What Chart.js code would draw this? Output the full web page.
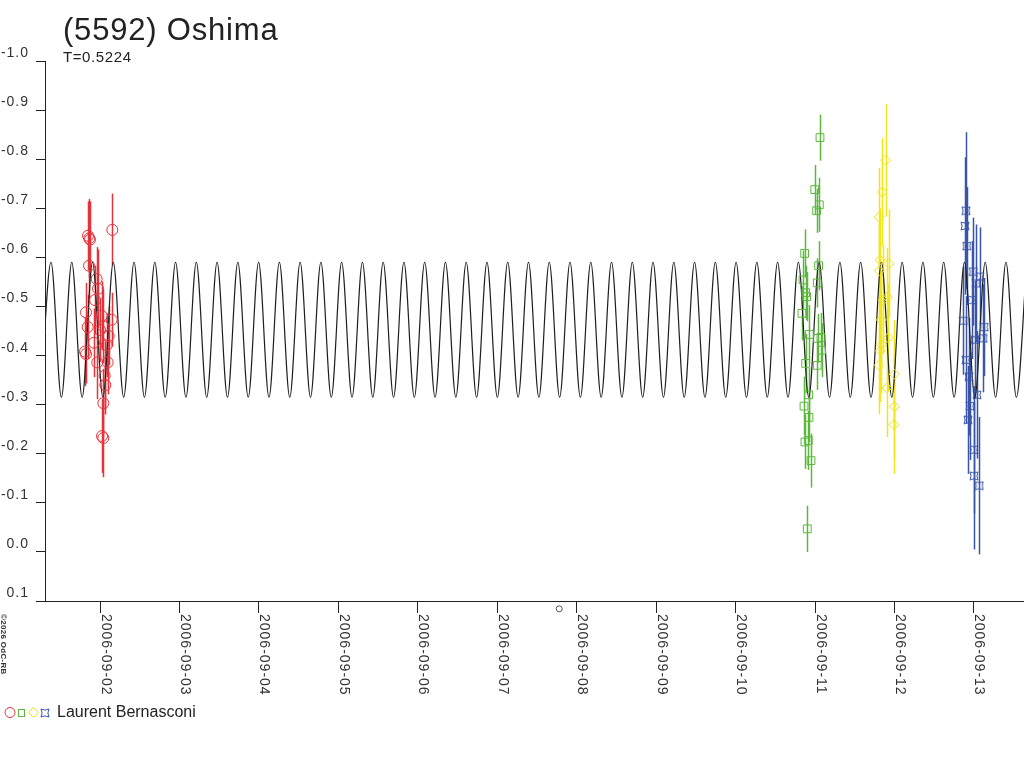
<!DOCTYPE html>
<html>
<head>
<meta charset="utf-8">
<style>
html,body{margin:0;padding:0;background:#fff;}
canvas{display:block;}
</style>
<script src="https://cdn.jsdelivr.net/npm/chart.js@4.4.1/dist/chart.umd.min.js"></script>
</head>
<body>
<canvas id="c" width="1024" height="768" style="width:1024px;height:768px"></canvas>
<script>
// ---- Axis ticks ----
const xTickDays = [2,3,4,5,6,7,8,9,10,11,12,13];
const xTickLabels = ["2006-09-02","2006-09-03","2006-09-04","2006-09-05","2006-09-06","2006-09-07","2006-09-08","2006-09-09","2006-09-10","2006-09-11","2006-09-12","2006-09-13"];
const yTickValues = [-1.0,-0.9,-0.8,-0.7,-0.6,-0.5,-0.4,-0.3,-0.2,-0.1,0.0,0.1];
const yTickLabels = ["-1.0","-0.9","-0.8","-0.7","-0.6","-0.5","-0.4","-0.3","-0.2","-0.1","0.0","0.1"];

// ---- Model curve: extrema (day of Sept 2006, relative mag) ----
const curveDays = [1.2527,1.3833,1.5140,1.6446,1.7753,1.9059,2.0366,2.1672,2.2979,2.4285,2.5592,2.6898,2.8205,2.9511,3.0818,3.2124,3.3431,3.4737,3.6044,3.7350,3.8657,3.9963,4.1270,4.2576,4.3883,4.5189,4.6496,4.7802,4.9109,5.0415,5.1722,5.3028,5.4335,5.5641,5.6948,5.8254,5.9561,6.0867,6.2174,6.3480,6.4787,6.6093,6.7400,6.8706,7.0013,7.1319,7.2626,7.3932,7.5239,7.6545,7.7852,7.9158,8.0465,8.1771,8.3078,8.4384,8.5691,8.6997,8.8304,8.9610,9.0917,9.2223,9.3530,9.4836,9.6143,9.7449,9.8756,10.0062,10.1369,10.2675,10.3982,10.5288,10.6595,10.7901,10.9208,11.0514,11.1821,11.3127,11.4434,11.5740,11.7047,11.8353,11.9660,12.0966,12.2273,12.3579,12.4886,12.6192,12.7499,12.8805,13.0112,13.1418,13.2725,13.4031,13.5338,13.6644];
const curveMags = [-0.315,-0.590,-0.315,-0.590,-0.315,-0.590,-0.315,-0.590,-0.315,-0.590,-0.315,-0.590,-0.315,-0.590,-0.315,-0.590,-0.315,-0.590,-0.315,-0.590,-0.315,-0.590,-0.315,-0.590,-0.315,-0.590,-0.315,-0.590,-0.315,-0.590,-0.315,-0.590,-0.315,-0.590,-0.315,-0.590,-0.315,-0.590,-0.315,-0.590,-0.315,-0.590,-0.315,-0.590,-0.315,-0.590,-0.315,-0.590,-0.315,-0.590,-0.315,-0.590,-0.315,-0.590,-0.315,-0.590,-0.315,-0.590,-0.315,-0.590,-0.315,-0.590,-0.315,-0.590,-0.315,-0.590,-0.315,-0.590,-0.315,-0.590,-0.315,-0.590,-0.315,-0.590,-0.315,-0.590,-0.315,-0.590,-0.315,-0.590,-0.315,-0.590,-0.315,-0.590,-0.315,-0.590,-0.315,-0.590,-0.315,-0.590,-0.315,-0.590,-0.315,-0.590,-0.315,-0.590];

// ---- Observations: session 1 (red) ----
const redDays = [2.155,1.865,1.874,1.849,1.862,1.958,1.975,1.824,2.021,2.147,1.845,2.042,2.109,1.924,2.084,1.811,1.824,1.966,2.096,2.059,2.067,2.042,2.042,2.025,1.937,2.000];
const redMags = [-0.656,-0.639,-0.636,-0.644,-0.583,-0.556,-0.536,-0.488,-0.481,-0.473,-0.458,-0.459,-0.440,-0.426,-0.421,-0.408,-0.403,-0.386,-0.386,-0.359,-0.340,-0.303,-0.232,-0.236,-0.513,-0.452];
const redErrs = [0.074,0.080,0.078,0.070,0.075,0.065,0.080,0.060,0.070,0.055,0.065,0.075,0.060,0.070,0.065,0.070,0.060,0.075,0.065,0.070,0.060,0.070,0.080,0.075,0.070,0.065];

// ---- session 2 (green) ----
const greenDays = [11.062,10.996,11.054,11.020,10.869,11.045,10.848,11.028,10.882,10.894,10.835,10.928,11.032,11.074,11.083,10.882,11.028,10.920,10.861,10.924,10.873,10.915,10.949,10.902];
const greenMags = [-0.844,-0.738,-0.707,-0.695,-0.608,-0.583,-0.554,-0.548,-0.528,-0.520,-0.486,-0.443,-0.435,-0.437,-0.411,-0.384,-0.380,-0.320,-0.297,-0.274,-0.224,-0.227,-0.186,-0.047];
const greenErrs = [0.047,0.050,0.055,0.045,0.049,0.050,0.060,0.050,0.055,0.050,0.055,0.060,0.050,0.050,0.055,0.060,0.050,0.055,0.060,0.050,0.055,0.060,0.055,0.047];

// ---- session 3 (yellow) ----
const yellowDays = [11.889,11.846,11.805,11.818,11.931,11.809,11.909,11.922,11.834,11.821,11.805,11.998,11.906,11.998,11.994,11.858,11.833];
const yellowMags = [-0.798,-0.733,-0.682,-0.595,-0.587,-0.573,-0.519,-0.436,-0.423,-0.410,-0.380,-0.362,-0.334,-0.296,-0.259,-0.513,-0.473];
const yellowErrs = [0.115,0.110,0.100,0.105,0.110,0.095,0.100,0.110,0.100,0.105,0.100,0.110,0.100,0.105,0.100,0.110,0.100];

// ---- session 4 (blue) ----
const blueDays = [12.900,12.887,12.909,12.992,13.076,13.026,12.866,13.129,13.117,13.013,12.900,12.937,12.950,13.000,13.000,13.067,12.975,12.925,13.038];
const blueMags = [-0.695,-0.664,-0.623,-0.571,-0.561,-0.547,-0.471,-0.458,-0.435,-0.432,-0.391,-0.357,-0.297,-0.208,-0.155,-0.135,-0.513,-0.269,-0.320];
const blueErrs = [0.160,0.140,0.120,0.110,0.100,0.120,0.110,0.100,0.110,0.120,0.130,0.120,0.110,0.130,0.150,0.140,0.120,0.110,0.130];

// ---- extra marker under the axis ----
const refMarkDays = [7.78];
const refMarkMags = [0.116];

const COL_RED = '#e8323a', COL_GREEN = '#5cb83c', COL_YELLOW = '#f2e619', COL_BLUE = '#3a55a8';

function pts(d, m){ return d.map((v,i)=>({x:v, y:m[i]})); }

function makeStar(size, color){
  const c = document.createElement('canvas');
  c.width = size; c.height = size;
  const g = c.getContext('2d');
  const a = 1, b = size - 1, h = size/2, k = size*0.22;
  g.strokeStyle = color; g.lineWidth = 1;
  g.beginPath();
  g.moveTo(a,a);
  g.quadraticCurveTo(h, a+k, b, a);
  g.quadraticCurveTo(b-k, h, b, b);
  g.quadraticCurveTo(h, b-k, a, b);
  g.quadraticCurveTo(a+k, h, a, a);
  g.closePath();
  g.stroke();
  return c;
}
const starImg = makeStar(10, COL_BLUE);
const starLegend = makeStar(10, COL_BLUE);

const series = [
  {d:redDays, m:redMags, e:redErrs, c:COL_RED},
  {d:greenDays, m:greenMags, e:greenErrs, c:COL_GREEN},
  {d:yellowDays, m:yellowMags, e:yellowErrs, c:COL_YELLOW},
  {d:blueDays, m:blueMags, e:blueErrs, c:COL_BLUE}
];

const errorBars = {
  id:'errorBars',
  beforeDatasetsDraw(chart){
    const ctx = chart.ctx, xs = chart.scales.x, ys = chart.scales.y, a = chart.chartArea;
    ctx.save();
    ctx.beginPath(); ctx.rect(a.left, a.top, a.right-a.left, a.bottom-a.top); ctx.clip();
    ctx.lineWidth = 1.5;
    series.forEach(s=>{
      ctx.strokeStyle = s.c;
      s.d.forEach((d,i)=>{
        const x = Math.round(xs.getPixelForValue(d)) + 0.5;
        ctx.beginPath();
        ctx.moveTo(x, ys.getPixelForValue(s.m[i]-s.e[i]));
        ctx.lineTo(x, ys.getPixelForValue(s.m[i]+s.e[i]));
        ctx.stroke();
      });
    });
    ctx.restore();
  }
};

const texts = {
  id:'texts',
  afterDraw(chart){
    const ctx = chart.ctx, xs = chart.scales.x, ys = chart.scales.y;
    ctx.save();
    // marker below the axis (outside chart area, so drawn here through the scales)
    ctx.strokeStyle = '#555'; ctx.lineWidth = 1;
    refMarkDays.forEach((d,i)=>{
      ctx.beginPath();
      ctx.arc(xs.getPixelForValue(d), ys.getPixelForValue(refMarkMags[i]), 3, 0, Math.PI*2);
      ctx.stroke();
    });
    ctx.fillStyle = '#222';
    ctx.textAlign = 'left'; ctx.textBaseline = 'alphabetic';
    // title
    ctx.font = '31px "Liberation Sans", Arial, sans-serif';
    ctx.letterSpacing = '0.8px';
    ctx.fillText('(5592) Oshima', 63, 40);
    ctx.font = '15px "Liberation Sans", Arial, sans-serif';
    ctx.letterSpacing = '0.6px';
    ctx.fillText('T=0.5224', 63, 62);
    // y labels
    ctx.fillStyle = '#333';
    ctx.font = '14px "Liberation Sans", Arial, sans-serif';
    ctx.letterSpacing = '1px';
    ctx.textAlign = 'right';
    yTickValues.forEach((v,i)=>{
      ctx.fillText(yTickLabels[i], 29, ys.getPixelForValue(v) - 4);
    });
    // x labels (rotated, reading downward)
    ctx.textAlign = 'left';
    xTickDays.forEach((v,i)=>{
      const x = xs.getPixelForValue(v);
      ctx.save();
      ctx.translate(x + 1.5, 614);
      ctx.rotate(Math.PI/2);
      ctx.fillText(xTickLabels[i], 0, 0);
      ctx.restore();
    });
    // copyright
    ctx.save();
    ctx.font = 'bold 8px "Liberation Sans", Arial, sans-serif';
    ctx.letterSpacing = '0.3px';
    ctx.fillStyle = '#333';
    ctx.translate(1, 614);
    ctx.rotate(Math.PI/2);
    ctx.fillText('\u00A92026 OdC-RB', 0, 0);
    ctx.restore();
    // legend symbols
    ctx.lineWidth = 1;
    ctx.strokeStyle = COL_RED;
    ctx.beginPath(); ctx.arc(10, 712.5, 5, 0, Math.PI*2); ctx.stroke();
    ctx.strokeStyle = COL_GREEN;
    ctx.strokeRect(18.5, 709.5, 6, 7);
    ctx.strokeStyle = COL_YELLOW;
    ctx.beginPath(); ctx.moveTo(33.5, 707.5); ctx.lineTo(38.5, 712.5); ctx.lineTo(33.5, 717.5); ctx.lineTo(28.5, 712.5); ctx.closePath(); ctx.stroke();
    ctx.drawImage(starLegend, 40, 708);
    ctx.fillStyle = '#222';
    ctx.font = '16px "Liberation Sans", Arial, sans-serif';
    ctx.letterSpacing = '0px';
    ctx.fillText('Laurent Bernasconi', 57, 717);
    ctx.restore();
  }
};

new Chart(document.getElementById('c'), {
  type:'scatter',
  data:{datasets:[
    {data:pts(curveDays, curveMags), showLine:true, pointRadius:0, borderColor:'#1e1e1e', borderWidth:1.2, cubicInterpolationMode:'monotone', fill:false, order:5},
    {data:pts(redDays, redMags), pointStyle:'circle', pointRadius:5.5, borderColor:COL_RED, backgroundColor:'rgba(0,0,0,0)', borderWidth:1, order:4},
    {data:pts(greenDays, greenMags), pointStyle:'rect', pointRadius:5.5, borderColor:COL_GREEN, backgroundColor:'rgba(0,0,0,0)', borderWidth:1, order:3},
    {data:pts(yellowDays, yellowMags), pointStyle:'rectRot', pointRadius:5, borderColor:COL_YELLOW, backgroundColor:'rgba(0,0,0,0)', borderWidth:1, order:2},
    {data:pts(blueDays, blueMags), pointStyle:starImg, pointRadius:5, borderColor:COL_BLUE, backgroundColor:'rgba(0,0,0,0)', borderWidth:1, order:1}
  ]},
  options:{
    responsive:false, animation:false, devicePixelRatio:1,
    layout:{autoPadding:false, padding:{top:61, left:0, right:0, bottom:0}},
    plugins:{legend:{display:false}, title:{display:false}, tooltip:{enabled:false}},
    scales:{
      x:{type:'linear', min:1.3077, max:13.630,
         afterBuildTicks:s=>{ s.ticks = xTickDays.map(v=>({value:v})); },
         ticks:{display:false},
         grid:{drawOnChartArea:false, drawTicks:true, tickLength:12, color:'#222', lineWidth:1},
         border:{display:true, color:'#222', width:1},
         afterFit:s=>{ s.height = 167; }},
      y:{type:'linear', min:-1.0, max:0.1, reverse:true,
         afterBuildTicks:s=>{ s.ticks = yTickValues.map(v=>({value:v})); },
         ticks:{display:false},
         grid:{drawOnChartArea:false, drawTicks:true, tickLength:9, color:'#222', lineWidth:1},
         border:{display:true, color:'#222', width:1},
         afterFit:s=>{ s.width = 45; }}
    }
  },
  plugins:[errorBars, texts]
});
</script>
</body>
</html>
